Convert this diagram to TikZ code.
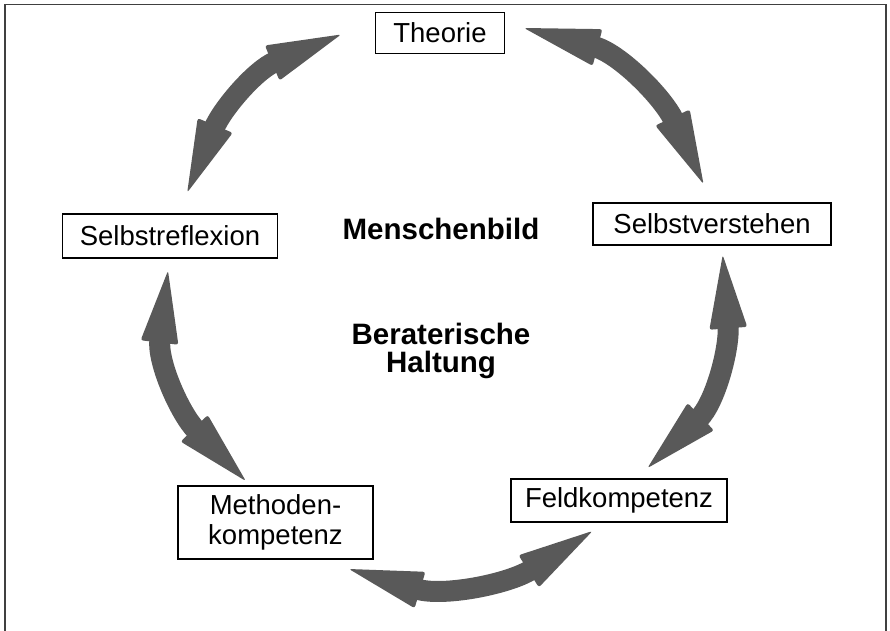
\documentclass[tikz,border=0pt]{standalone}
\usepackage{fontspec}
\setmainfont{Liberation Sans}
\usetikzlibrary{calc}
\definecolor{arrowgray}{RGB}{89,89,89}
\definecolor{framegray}{RGB}{64,64,64}
\tikzset{
  box/.style={draw=black, line width=1.1pt, fill=white, inner sep=0pt, align=center,
    font=\fontsize{27.5}{30.5}\selectfont},
  center text/.style={align=center, inner sep=0pt, font=\fontsize{29.5}{29.5}\selectfont\bfseries},
  shaft/.style={draw=arrowgray, line width=21pt, line cap=butt},
  headfill/.style={fill=arrowgray, rounded corners=2.5pt},
  frameline/.style={draw=framegray, line width=1.5pt}
}
% #1 tip, #2 back centre of the head
\newcommand{\myhead}[2]{%
  \fill[headfill] ($(#2)!19pt!90:(#1)$) -- (#1) -- ($(#2)!19pt!-90:(#1)$) -- cycle;
}
% #1 tip a, #2 back a, #3 back b, #4 tip b
\newcommand{\mydblarrow}[4]{%
  \draw[shaft] let \p1=($(#2)-(#1)$), \p2=($(#3)-(#4)$),
     \n1={atan2(\y1,\x1)}, \n2={atan2(\y2,\x2)} in
     ($(#2)!3pt!(#1)$) to[out=\n1, in=\n2, looseness=0.6] ($(#3)!3pt!(#4)$);
  \myhead{#1}{#2}
  \myhead{#4}{#3}
}
\begin{document}
\begin{tikzpicture}[x=1pt,y=1pt]
\useasboundingbox (0,-630) rectangle (890,0);
\fill[white] (0,-630) rectangle (890,0);
\draw[frameline] (5,-640) -- (5,-4.5) -- (886,-4.5) -- (886,-640);

% boxes
\node[box, minimum width=129pt, minimum height=41pt] (theorie) at (440,-33) {Theorie};
\node[box, minimum width=215pt, minimum height=44pt] (reflexion) at (170,-236) {Selbstreflexion};
\node[box, minimum width=238pt, minimum height=42pt] (verstehen) at (712,-224) {Selbstverstehen};
\node[box, minimum width=195pt, minimum height=73pt] (methoden) at (275.5,-522.5) {Methoden-\\kompetenz};
\node[box, minimum width=216pt, minimum height=43pt] (feld) at (619,-500.5) {Feldkompetenz};

% centre texts
\node[center text, anchor=base] (menschenbild) at (441,-239) {Menschenbild};
\node[center text, anchor=base] (beraterische) at (441,-344) {Beraterische};
\node[center text, anchor=base] (haltung) at (441,-372) {Haltung};

% arrow tips (t) and head back centres (b)
\coordinate (t1a) at (341,-34.5);   \coordinate (b1a) at (272.2,-63);
\coordinate (b1b) at (215.2,-125.5); \coordinate (t1b) at (187.2,-192.5);
\coordinate (t2a) at (524,-28);     \coordinate (b2a) at (597.5,-47.5);
\coordinate (b2b) at (672.5,-117.5); \coordinate (t2b) at (703.5,-184);
\coordinate (t3a) at (722.7,-255);  \coordinate (b3a) at (728.3,-328.3);
\coordinate (b3b) at (700.8,-416.7); \coordinate (t3b) at (647.5,-468);
\coordinate (t4a) at (592.5,-531);  \coordinate (b4a) at (528.7,-571.3);
\coordinate (b4b) at (420,-590);    \coordinate (t4b) at (349,-569);
\coordinate (t5a) at (245.8,-481);  \coordinate (b5a) at (194.2,-428.3);
\coordinate (b5b) at (159.5,-342.5); \coordinate (t5b) at (168,-270.7);

\mydblarrow{t1a}{b1a}{b1b}{t1b}
\mydblarrow{t2a}{b2a}{b2b}{t2b}
\mydblarrow{t3a}{b3a}{b3b}{t3b}
\mydblarrow{t4a}{b4a}{b4b}{t4b}
\mydblarrow{t5a}{b5a}{b5b}{t5b}
\end{tikzpicture}
\end{document}
